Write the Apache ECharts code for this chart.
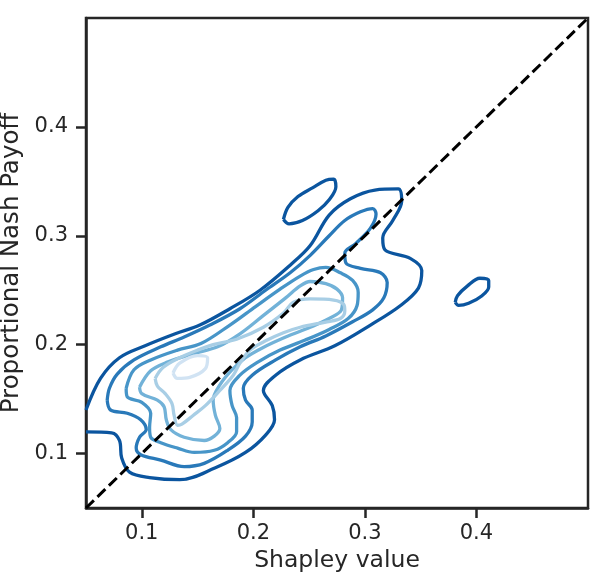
<!DOCTYPE html>
<html>
<head>
<meta charset="utf-8">
<script src="https://cdn.jsdelivr.net/npm/echarts@6/dist/echarts.min.js"></script>
<style>
  html, body { margin: 0; padding: 0; background: #fff; }
  #chart { width: 607px; height: 579px; }
</style>
</head>
<body>
<div id="chart"></div>
<script>
// tick values on both axes
var tickValues = [0.1, 0.2, 0.3, 0.4];

// kde contour lines, [shapley, nash] pairs, outer level first
var level1 = [[0.050,0.120],[0.073,0.119],[0.080,0.112],[0.082,0.096],[0.089,0.083],[0.107,0.078],[0.134,0.076],[0.166,0.087],[0.193,0.101],[0.211,0.117],[0.219,0.131],[0.217,0.144],[0.209,0.158],[0.220,0.172],[0.242,0.186],[0.273,0.199],[0.305,0.218],[0.332,0.236],[0.348,0.252],[0.351,0.268],[0.341,0.279],[0.318,0.287],[0.316,0.298],[0.325,0.314],[0.333,0.332],[0.330,0.343],[0.309,0.342],[0.287,0.334],[0.268,0.319],[0.251,0.291],[0.233,0.273],[0.206,0.250],[0.179,0.233],[0.152,0.218],[0.130,0.210],[0.103,0.199],[0.080,0.188],[0.063,0.169],[0.050,0.140]];
var level1IslandA = [[0.227,0.315],[0.231,0.326],[0.240,0.336],[0.253,0.344],[0.265,0.351],[0.272,0.352],[0.274,0.345],[0.268,0.333],[0.258,0.323],[0.244,0.314],[0.232,0.311],[0.227,0.315]];
var level1IslandB = [[0.381,0.239],[0.383,0.245],[0.392,0.254],[0.403,0.261],[0.411,0.259],[0.411,0.253],[0.405,0.245],[0.393,0.238],[0.384,0.236],[0.381,0.239]];
var level2 = [[0.069,0.149],[0.071,0.160],[0.078,0.173],[0.093,0.186],[0.117,0.198],[0.138,0.207],[0.161,0.218],[0.188,0.233],[0.211,0.250],[0.233,0.266],[0.251,0.282],[0.268,0.300],[0.282,0.314],[0.296,0.322],[0.307,0.325],[0.310,0.320],[0.305,0.307],[0.292,0.293],[0.282,0.284],[0.283,0.275],[0.296,0.270],[0.314,0.266],[0.320,0.257],[0.317,0.243],[0.307,0.232],[0.289,0.221],[0.265,0.208],[0.242,0.198],[0.220,0.186],[0.199,0.172],[0.191,0.160],[0.193,0.149],[0.199,0.140],[0.199,0.129],[0.193,0.116],[0.177,0.103],[0.156,0.091],[0.138,0.088],[0.117,0.094],[0.099,0.099],[0.095,0.105],[0.098,0.115],[0.104,0.122],[0.099,0.131],[0.087,0.137],[0.072,0.140],[0.069,0.149]];
var level3 = [[0.086,0.160],[0.093,0.177],[0.108,0.186],[0.132,0.195],[0.153,0.201],[0.179,0.218],[0.202,0.235],[0.224,0.251],[0.242,0.263],[0.254,0.269],[0.265,0.271],[0.278,0.266],[0.289,0.259],[0.294,0.248],[0.293,0.236],[0.285,0.224],[0.268,0.214],[0.246,0.204],[0.224,0.195],[0.204,0.184],[0.188,0.172],[0.179,0.158],[0.181,0.144],[0.185,0.133],[0.185,0.120],[0.177,0.110],[0.165,0.103],[0.147,0.101],[0.132,0.105],[0.117,0.110],[0.108,0.115],[0.107,0.124],[0.108,0.137],[0.100,0.147],[0.087,0.152],[0.086,0.160]];
var level4 = [[0.098,0.161],[0.108,0.176],[0.123,0.184],[0.147,0.192],[0.168,0.198],[0.188,0.210],[0.208,0.226],[0.229,0.243],[0.242,0.254],[0.251,0.258],[0.265,0.256],[0.275,0.251],[0.280,0.243],[0.279,0.232],[0.268,0.224],[0.251,0.216],[0.229,0.207],[0.208,0.197],[0.193,0.188],[0.181,0.177],[0.170,0.163],[0.164,0.149],[0.166,0.135],[0.170,0.123],[0.165,0.116],[0.156,0.112],[0.138,0.115],[0.126,0.122],[0.122,0.131],[0.120,0.143],[0.114,0.149],[0.100,0.155],[0.098,0.161]];
var level5 = [[0.112,0.169],[0.119,0.179],[0.134,0.188],[0.150,0.195],[0.164,0.200],[0.185,0.205],[0.209,0.216],[0.227,0.229],[0.236,0.239],[0.251,0.242],[0.272,0.241],[0.281,0.237],[0.282,0.231],[0.278,0.224],[0.266,0.221],[0.242,0.216],[0.227,0.211],[0.212,0.204],[0.197,0.195],[0.188,0.183],[0.182,0.172],[0.170,0.158],[0.157,0.144],[0.146,0.135],[0.136,0.127],[0.132,0.126],[0.129,0.135],[0.127,0.146],[0.121,0.155],[0.114,0.162],[0.112,0.169]];
var level6 = [[0.128,0.174],[0.134,0.183],[0.150,0.190],[0.159,0.188],[0.157,0.178],[0.143,0.170],[0.132,0.169],[0.128,0.174]];

var diagonal = [[0.05, 0.05], [0.5, 0.5]];

var levelColors = ['#0b559f', '#2979b9', '#4795c8', '#72b2d8', '#a8cee5', '#d1e3f3'];

var textColor = '#262626';
var font = 'DejaVu Sans';

function contour(data, colorIdx) {
  return {
    type: 'line',
    data: data,
    smooth: 0.35,
    symbol: 'none',
    silent: true,
    lineStyle: { color: levelColors[colorIdx], width: 3.3 },
    z: 2
  };
}

var chart = echarts.init(document.getElementById('chart'));

var option = {
  animation: false,
  grid: {
    left: 86, right: 19, top: 18, bottom: 71,
    containLabel: false,
    outerBoundsMode: 'none',
    show: true,
    borderColor: textColor,
    borderWidth: 2.5,
    backgroundColor: '#fff'
  },
  xAxis: {
    type: 'value',
    min: 0.05,
    max: 0.5,
    name: 'Shapley value',
    nameLocation: 'middle',
    nameGap: 38,
    nameTextStyle: { color: textColor, fontSize: 23.5, fontFamily: font },
    axisLine: { show: true, lineStyle: { color: textColor, width: 2.5 } },
    axisTick: { show: true, length: 10, customValues: tickValues, lineStyle: { color: textColor, width: 2.5 } },
    axisLabel: {
      customValues: tickValues,
      margin: 15,
      color: textColor,
      fontSize: 21,
      fontFamily: font,
      formatter: function(v) { return v.toFixed(1); }
    },
    splitLine: { show: false }
  },
  yAxis: {
    type: 'value',
    min: 0.05,
    max: 0.5,
    name: 'Proportional Nash Payoff',
    nameLocation: 'middle',
    nameGap: 57,
    nameRotate: 90,
    nameTextStyle: { color: textColor, fontSize: 24.5, fontFamily: font },
    axisLine: { show: true, lineStyle: { color: textColor, width: 2.5 } },
    axisTick: { show: true, length: 10, customValues: tickValues, lineStyle: { color: textColor, width: 2.5 } },
    axisLabel: {
      customValues: tickValues,
      margin: 18,
      color: textColor,
      fontSize: 21,
      fontFamily: font,
      formatter: function(v) { return v.toFixed(1); }
    },
    splitLine: { show: false }
  },
  series: [
    contour(level1, 0),
    contour(level1IslandA, 0),
    contour(level1IslandB, 0),
    contour(level2, 1),
    contour(level3, 2),
    contour(level4, 3),
    contour(level5, 4),
    contour(level6, 5),
    {
      type: 'line',
      data: diagonal,
      symbol: 'none',
      silent: true,
      lineStyle: { color: '#000', width: 3, type: [11, 5] },
      z: 5
    }
  ]
};

chart.setOption(option);
</script>
</body>
</html>
